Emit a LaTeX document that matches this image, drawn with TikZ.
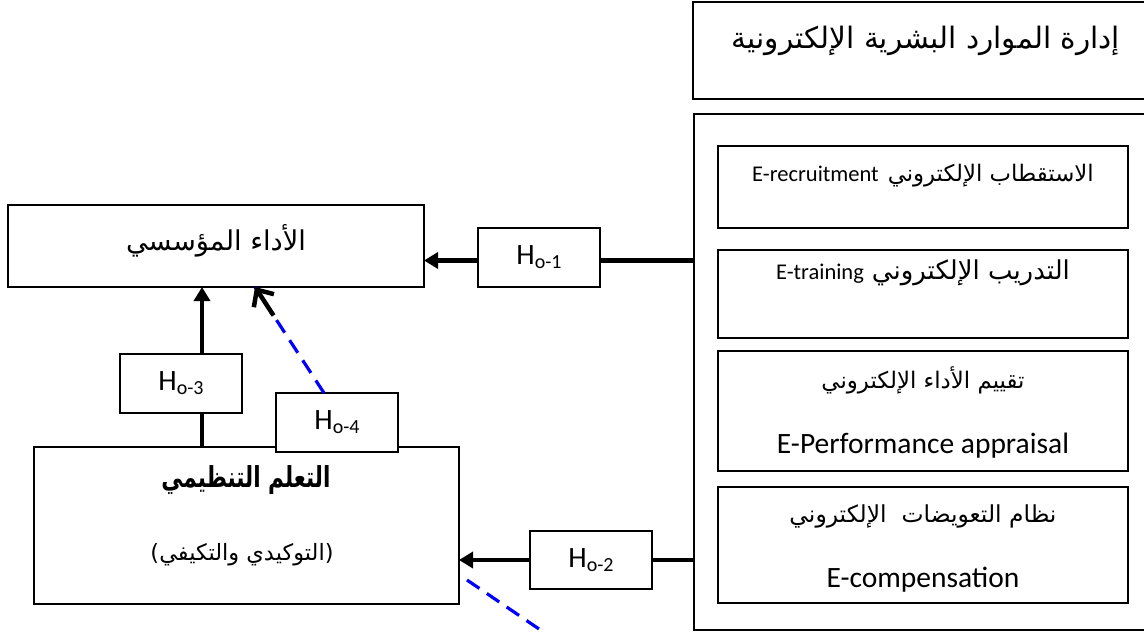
\documentclass[tikz,border=0pt]{standalone}
\usepackage{fontspec}
\usepackage{graphicx}
\setmainfont{Carlito}
\newfontfamily\arabicfont[Script=Arabic]{DejaVu Sans}
\TeXXeTstate=1
\usetikzlibrary{arrows.meta,calc}
\definecolor{linkblue}{RGB}{0,0,255}
% Arabic text scaled to a given width
\newcommand{\artxt}[2]{\resizebox{#1pt}{!}{\arabicfont #2}}
% Arabic bold text scaled to a given width and total height
\newcommand{\artxtb}[3]{\resizebox*{#1pt}{#2pt}{\arabicfont\bfseries #3}}
% hypothesis label H_{o-n}
\newcommand{\hyp}[1]{\fontsize{29.5}{34}\selectfont H\raisebox{-4pt}{\fontsize{20}{22}\selectfont o-#1}}
\begin{document}
\begin{tikzpicture}[x=1pt,y=-1pt,
  rbox/.style={draw, line width=1.2pt, fill=white, inner sep=0pt, outer sep=0pt, anchor=north west},
  outerbox/.style={draw, line width=1.6pt, inner sep=0pt, outer sep=0pt, anchor=north west},
  txt/.style={inner sep=0pt, outer sep=0pt},
  bar/.style={line width=4.5pt},
  link/.style={line width=4.5pt, -{Triangle[length=14pt,width=16pt]}},
  dashlink/.style={draw=linkblue, line width=3.2pt, dash pattern=on 15pt off 9pt},
  latin/.style={font=\fontsize{29.5}{34}\selectfont}]
\useasboundingbox (0,0) rectangle (1144,632);
\clip (0,0) rectangle (1144,632);

% right-hand column: e-HRM and its practices
\node[outerbox, minimum width=460pt, minimum height=97pt] (ehrm) at (693,2) {};
\node[txt] (ehrmtxt) at (926,41) {\artxt{388}{\beginR إدارة الموارد البشرية الإلكترونية\endR}};
\node[outerbox, minimum width=460pt, minimum height=516pt] (practices) at (694,114) {};

\node[rbox, minimum width=410pt, minimum height=82pt] (recruit) at (718,146) {};
\node[txt] (recruittxt) at (923,176) {{\fontsize{22.5}{26}\selectfont E-recruitment}\hspace{9pt}\artxt{206}{\beginR الاستقطاب الإلكتروني\endR}};

\node[rbox, minimum width=410pt, minimum height=88pt] (train) at (718,250) {};
\node[txt] (traintxt) at (923,273) {{\fontsize{22.5}{26}\selectfont E-training}\hspace{8pt}\artxt{198}{\beginR التدريب الإلكتروني\endR}};

\node[rbox, minimum width=410pt, minimum height=120pt] (appraisal) at (718,351) {};
\node[txt] (appraisalar) at (923,380) {\artxt{203}{\beginR تقييم الأداء الإلكتروني\endR}};
\node[txt, latin] (appraisalen) at (923,446) {E-Performance appraisal};

\node[rbox, minimum width=410pt, minimum height=116pt] (compens) at (718,487) {};
\node[txt] (compensar) at (923,516) {\artxt{267}{\beginR نظام التعويضات\ \ الإلكتروني\endR}};
\node[txt, latin] (compensen) at (923,580) {E-compensation};

% left-hand column: performance and learning
\node[rbox, minimum width=416pt, minimum height=82pt] (perf) at (8,205) {};
\node[txt] (perftxt) at (216,241) {\artxt{180}{\beginR الأداء المؤسسي\endR}};

\node[rbox, minimum width=425pt, minimum height=157pt] (learn) at (34,447) {};
\node[txt] (learntxt) at (246,480) {\artxtb{169}{29}{\beginR التعلم التنظيمي\endR}};
\node[txt] (learnsub) at (242,555) {\artxt{183}{\beginR (التوكيدي والتكيفي)\endR}};

% hypothesis labels
\node[rbox, minimum width=122pt, minimum height=59pt] (h1) at (478,228) {\hyp{1}};
\node[rbox, minimum width=122pt, minimum height=58pt] (h2) at (530,531) {\hyp{2}};
\node[rbox, minimum width=122pt, minimum height=59pt] (h3) at (120,354) {\hyp{3}};
\node[rbox, minimum width=122pt, minimum height=59pt] (h4) at (276,393) {\hyp{4}};

% H_{o-1}: practices -> performance
\draw[bar] ([yshift=-3pt]h1.east) -- ([yshift=-3pt]h1.east -| practices.west);
\draw[link] ([yshift=-3pt]h1.west) -- ([yshift=-3pt]h1.west -| perf.east);
% H_{o-2}: practices -> learning
\draw[bar] (h2.east) -- (h2.east -| practices.west);
\draw[link] (h2.west) -- (h2.west -| learn.east);
% H_{o-3}: learning -> performance
\draw[bar] ([xshift=21pt]h3.south) -- ([xshift=21pt]h3.south |- learn.north);
\draw[link] ([xshift=21pt]h3.north) -- ([xshift=21pt]h3.north |- perf.south);
% H_{o-4}: mediated path, dashed
\coordinate (h4from) at ([xshift=-13pt]h4.north);
\coordinate (h4to) at ([xshift=39pt]perf.south);
\draw[dashlink] (h4from) -- (h4to);
\draw[line width=4.5pt, -{Straight Barb[length=13pt,width=24pt,line width=4.5pt]}] ($(h4to)!34pt!(h4from)$) -- (h4to);
% dashed path leaving the learning box
\coordinate (tailstart) at ([shift={(8,-24)}]learn.south east);
\coordinate (tailend) at (564,646);
\draw[dashlink] (tailstart) -- (tailend);
\end{tikzpicture}
\end{document}
